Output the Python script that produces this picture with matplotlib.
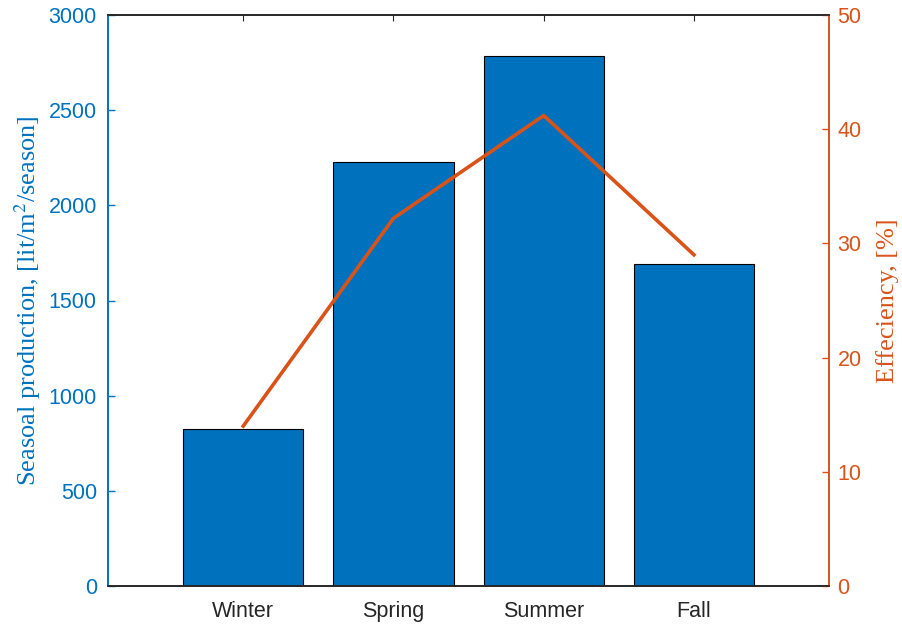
import matplotlib.pyplot as plt

plt.rcParams["mathtext.fontset"] = "stix"

# Seasonal data
seasons = ["Winter", "Spring", "Summer", "Fall"]
production = [823, 2228, 2785, 1692]      # lit/m^2/season
efficiency = [14.0, 32.2, 41.2, 29.0]     # %

blue = "#0072BD"
orange = "#D95319"
dark = "#262626"


def main():
    fig = plt.figure(figsize=(9.02, 6.25), dpi=100)
    ax = fig.add_axes([0.1197, 0.0624, 0.7996, 0.9136])
    ax2 = ax.twinx()

    x = list(range(1, len(seasons) + 1))

    # Production bars on the left axis
    ax.bar(x, production, width=0.8, color=blue, edgecolor="black",
           linewidth=0.8, zorder=2)
    ax.set_xlim(0.1, 4.9)
    ax.set_ylim(0, 3000)
    ax.set_yticks(range(0, 3001, 500))
    ax.set_xticks(x)
    ax.set_xticklabels(seasons, family="Liberation Sans", fontsize=15.5,
                       color=dark)
    ax.tick_params(axis="x", direction="in", length=4, width=0.8,
                   color=dark, top=True, pad=11)
    ax.tick_params(axis="y", direction="in", length=5, width=1,
                   color=blue, labelcolor=blue, labelsize=15.5, pad=8)
    for lbl in ax.get_yticklabels():
        lbl.set_family("Liberation Sans")
    ax.set_ylabel("Seasoal production, [lit/m$^2$/season]",
                  family="Liberation Serif", fontsize=19, color=blue,
                  labelpad=4)

    # Efficiency line on the right axis
    ax2.plot(x, efficiency, color=orange, linewidth=2.6, zorder=3)
    ax2.set_ylim(0, 50)
    ax2.set_yticks(range(0, 51, 10))
    ax2.tick_params(axis="y", direction="in", length=5, width=1,
                    color=orange, labelcolor=orange, labelsize=15.5, pad=6)
    for lbl in ax2.get_yticklabels():
        lbl.set_family("Liberation Sans")
    ax2.set_ylabel("Effeciency, [%]", family="Liberation Serif",
                   fontsize=19, color=orange, labelpad=10)

    # Spines
    for a in (ax, ax2):
        a.spines["top"].set_color(dark)
        a.spines["top"].set_linewidth(1.2)
        a.spines["bottom"].set_color(dark)
        a.spines["bottom"].set_linewidth(1.2)
        a.spines["left"].set_color(blue)
        a.spines["left"].set_linewidth(1.2)
        a.spines["right"].set_color(orange)
        a.spines["right"].set_linewidth(1.2)

    fig.savefig("out.png", dpi=100)


if __name__ == "__main__":
    main()
